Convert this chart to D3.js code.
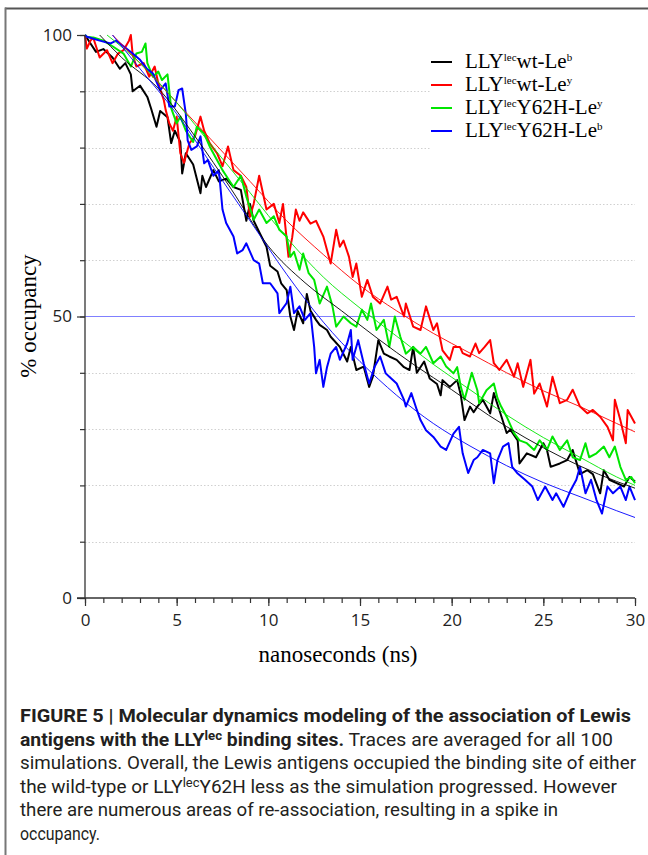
<!DOCTYPE html>
<html>
<head>
<meta charset="utf-8">
<script src="https://cdn.jsdelivr.net/npm/d3@7"></script>
<style>
  body { margin: 0; background: #fff; }
  svg { display: block; }
  .tick text { font-family: "Open Sans", "DejaVu Sans", sans-serif; font-size: 17px; fill: #222; }
</style>
</head>
<body>
<div id="chart"></div>
<script>
// occupancy traces, [ns, % occupancy]
const wtLeb = [[0,100],[0.3,98.5],[0.6,97],[1.0,97.5],[1.5,96],[1.9,94],[2.2,95],[2.5,93],[2.6,90],[3.0,91],[3.4,89],[3.6,87],[3.9,83.7],[4.1,86.5],[4.5,85.4],[4.7,80.8],[4.9,83],[5.2,81],[5.3,75.4],[5.5,79],[5.9,77],[6.3,71.9],[6.4,75],[6.6,73],[7.0,76],[7.3,74],[7.7,74.5],[8.1,73],[8.5,72.5],[8.8,67],[9.0,70],[9.2,67],[9.5,65],[9.9,62.4],[10.1,59],[10.5,58],[10.7,55.9],[11.0,54.7],[11.2,50],[11.4,47.6],[11.6,51],[11.9,48.8],[12.1,54],[12.3,51],[12.6,49.4],[12.8,48.5],[13.2,47.6],[13.4,46.4],[13.9,44.6],[14.3,42],[14.5,44.6],[14.8,40.5],[15.2,41.1],[15.5,37.5],[15.7,39.3],[16.0,45.8],[16.3,43.4],[16.6,42.9],[17.0,42.3],[17.4,41],[17.7,40.5],[17.9,44.6],[18.1,40],[18.5,42],[18.8,39],[19.2,38],[19.4,36],[19.5,38.7],[19.9,37.5],[20.3,38.7],[20.5,36],[20.7,31.6],[21.0,34],[21.2,33],[21.4,34],[21.7,35.2],[22.1,32.8],[22.3,36.4],[22.6,33.4],[23.0,29.3],[23.2,29.9],[23.6,28],[23.7,23.9],[24.1,25.7],[24.6,25],[25.0,27.5],[25.2,26.3],[25.4,23.3],[25.9,23.9],[26.3,24.5],[26.6,26.3],[27.0,22],[27.4,22.7],[27.7,22],[28.1,18.6],[28.3,22.7],[28.6,21],[29.0,20.4],[29.4,19.8],[29.7,21.5],[30.0,20.7]]

const wtLey = [[0,100],[0.1,97.6],[0.3,99],[0.45,99.5],[0.8,96],[1.2,97.3],[1.5,95],[1.8,96.7],[2.1,97.3],[2.4,99],[2.5,100],[2.6,96.5],[2.8,94.4],[3.2,95],[3.5,92.6],[3.8,94.4],[4.0,91.4],[4.3,88.4],[4.4,86.7],[4.6,84.3],[4.8,83],[5.0,85.5],[5.2,79],[5.4,77.3],[5.7,80.8],[6.0,82],[6.3,85.5],[6.5,83],[6.8,80.8],[7.2,79],[7.5,76.7],[7.8,80.2],[8.1,76],[8.5,75],[8.8,73],[9.0,67.7],[9.2,70],[9.5,75],[9.9,69],[10.3,70],[10.6,66.6],[10.8,70],[11.1,60.6],[11.3,64],[11.5,69],[11.7,67],[11.9,68.5],[12.3,66.5],[12.6,67],[13.0,64.2],[13.4,59.4],[13.7,65.4],[13.9,62.4],[14.1,63.5],[14.4,60.6],[14.6,57],[14.8,59.4],[15.1,53.5],[15.4,56.5],[15.7,53.5],[16.1,52.3],[16.5,55.3],[16.7,53],[17.0,53.5],[17.4,50],[17.5,52.3],[17.9,48.2],[18.3,47.6],[18.6,51.8],[19.0,47.6],[19.2,48.8],[19.5,44],[19.9,42.3],[20.1,44.6],[20.45,44.6],[20.6,43.5],[21.0,42.9],[21.3,45.2],[21.5,43.5],[21.8,44.6],[22.1,45.8],[22.3,41.7],[22.6,40.5],[23.0,42.3],[23.4,39.3],[23.6,41.7],[23.9,37.5],[24.3,42.3],[24.5,36.3],[24.8,38.1],[25.2,34],[25.5,39.3],[25.9,34.6],[26.3,35.2],[26.6,37],[27.0,34],[27.4,32.8],[27.7,33.4],[28.1,32.2],[28.5,30.4],[28.8,28],[28.9,35.2],[29.2,31.6],[29.5,27.5],[29.6,33.4],[29.8,32.2],[30.0,31]]

const y62hLey = [[0,100],[0.1,99.7],[0.5,99.5],[1.0,99],[1.5,98],[2.1,96.7],[2.5,94.4],[2.8,96.7],[3.1,97],[3.3,98.5],[3.4,95],[3.7,92.6],[4.0,93.5],[4.2,92],[4.5,93],[4.7,87],[5.0,84.3],[5.2,85.5],[5.5,83],[5.9,81],[6.1,83.7],[6.5,82.5],[6.8,80.2],[7.2,77.8],[7.5,76],[7.7,75],[8.1,73],[8.5,75],[8.8,71.3],[9.2,67.2],[9.5,69],[9.9,66.6],[10.3,67.8],[10.6,65.4],[11.0,64.2],[11.2,60.6],[11.4,61.5],[11.7,58.3],[11.9,61.2],[12.2,57.7],[12.5,56.5],[12.8,52.3],[13.2,55.3],[13.5,51.8],[13.7,48.2],[14.1,50],[14.5,48.8],[14.8,48.2],[15.1,51.2],[15.4,49.4],[15.6,52.3],[15.9,47.6],[16.3,49.4],[16.6,44.6],[16.9,50],[17.2,46.4],[17.5,43.4],[17.9,44.6],[18.3,43.4],[18.6,44.6],[19.0,41.7],[19.4,42.9],[19.7,41.1],[20.1,39.9],[20.3,41],[20.5,37.5],[20.7,35.2],[21.1,40],[21.4,36.9],[21.5,34.6],[21.9,36.9],[22.3,38.1],[22.5,35.5],[22.7,34],[23.0,32.2],[23.4,29.3],[23.7,28],[24.1,27.5],[24.5,26.3],[24.8,28],[25.2,26.3],[25.5,28.7],[25.9,26.3],[26.3,28],[26.6,25],[27.0,24.5],[27.3,27.5],[27.5,25],[27.9,25.7],[28.3,26.9],[28.6,25],[28.9,26.9],[29.2,23.3],[29.5,21],[29.8,21.5],[30.0,20.4]]

const y62hLeb = [[0,100],[0.1,99.7],[0.8,99],[1.4,98.5],[1.7,99],[2.1,98],[2.6,96.7],[3.0,95.6],[3.4,93.9],[3.7,93.2],[4.1,90.2],[4.4,91.4],[4.6,87.3],[4.9,87.3],[5.1,90.2],[5.3,90.5],[5.5,86],[5.6,81.3],[5.8,79.6],[6.1,80.2],[6.3,82],[6.5,77.2],[6.7,77.8],[7.0,75],[7.3,76],[7.5,69],[7.7,66.6],[8.1,64.2],[8.3,61.2],[8.6,61.8],[8.8,63],[9.2,60],[9.5,59.4],[9.7,55.9],[10.1,55.9],[10.5,54.1],[10.6,50.6],[11.0,52.4],[11.2,55.3],[11.4,50.6],[11.7,51.8],[12.0,49.4],[12.3,50.6],[12.5,44.6],[12.6,39.9],[12.8,42.3],[13.0,37.5],[13.2,41],[13.4,43.4],[13.7,44.6],[13.9,42.3],[14.3,45.2],[14.5,47.6],[14.6,42.3],[14.9,45.8],[15.2,41.7],[15.5,38.1],[15.8,41.1],[16.1,42.9],[16.4,39.9],[16.6,39.3],[17.0,38.1],[17.4,35.2],[17.5,34],[17.8,36.4],[18.1,33.4],[18.3,31.6],[18.6,29.8],[19.0,28.6],[19.4,26.9],[19.7,26.3],[20.1,29.2],[20.4,30.4],[20.6,25.7],[20.9,22.2],[21.2,24.5],[21.4,25],[21.7,26.3],[22.1,25.7],[22.3,20.4],[22.5,24.5],[22.8,26.9],[23.1,27.5],[23.3,23.3],[23.6,22.1],[24.0,21],[24.4,19.8],[24.7,17.4],[25.1,19.8],[25.5,17.4],[25.7,18.6],[26.1,16.2],[26.5,19.2],[26.8,21],[27.0,23.3],[27.3,18.6],[27.6,21],[27.9,17.4],[28.2,15],[28.5,19.8],[28.8,18.6],[29.2,19.8],[29.5,17.4],[29.7,19.8],[30.0,17.4]]

// fitted decay curves (thin lines)
const fitWtLeb = [[0.8,100],[2,96],[4,90.5],[6,82],[8,72.5],[10,62.5],[12,56],[14,51],[16,46],[18,41.3],[20,37],[22,32.5],[24,28.5],[26,25],[28,22],[30,19.5]]
const fitWtLey = [[1.5,100],[3,95],[5,88],[7,81],[9,74],[11,67],[13,61],[15,55.5],[17,51],[19,47],[21,43.5],[23,40],[25,36.8],[27,34],[29,31],[30,29.5]]
const fitY62hLey = [[1.2,100],[3,95],[5,88],[7,80],[9,72],[11,64],[13,57],[15,51.5],[17,46.5],[19,41.5],[21,37],[23,32.5],[25,28.5],[27,25],[29,21.5],[30,20]]
const fitY62hLeb = [[1.5,100],[3,94],[5,86],[7,76.5],[9,67],[11,57.5],[13,49],[15,42],[17,36],[19,31],[21,27],[23,23.5],[25,20.5],[27,18],[29,15.5],[30,14.3]]

const seriesColors = ["#000000", "#ff0000", "#00e600", "#0000ff"]
const seriesNames = [
    ["LLY", "lec", "wt-Le", "b"],
    ["LLY", "lec", "wt-Le", "y"],
    ["LLY", "lec", "Y62H-Le", "y"],
    ["LLY", "lec", "Y62H-Le", "b"],
]
const traces = [wtLeb, wtLey, y62hLey, y62hLeb]
const fits = [fitWtLeb, fitWtLey, fitY62hLey, fitY62hLeb]

const majorX = [0, 5, 10, 15, 20, 25, 30]
const minorX = d3.range(0, 31, 1)
const majorY = [0, 50, 100]
const minorY = d3.range(0, 101, 10)
const gridY = [10, 20, 30, 40, 60, 70, 80, 90]

const caption = [
    [{t: "FIGURE 5 | Molecular dynamics modeling of the association of Lewis", b: true}],
    [{t: "antigens with the LLY", b: true}, {t: "lec", b: true, sup: true}, {t: " binding sites.", b: true}, {t: " Traces are averaged for all 100"}],
    [{t: "simulations. Overall, the Lewis antigens occupied the binding site of either"}],
    [{t: "the wild-type or LLY"}, {t: "lec", sup: true}, {t: "Y62H less as the simulation progressed. However"}],
    [{t: "there are numerous areas of re-association, resulting in a spike in"}],
    [{t: "occupancy."}],
]
const captionWidths = [611, 593, 616, 597, 538, 80]

draw()

function draw() {
    const width = 648
    const height = 855
    const plot = {left: 85, right: 635, top: 35, bottom: 598}

    const svg = d3.select("#chart").append("svg")
        .attr("width", width)
        .attr("height", height)

    // frame of the figure panel
    svg.append("line")
        .attr("x1", 5).attr("x2", width)
        .attr("y1", 8.5).attr("y2", 8.5)
        .attr("stroke", "#555").attr("stroke-width", 2)
    svg.append("line")
        .attr("x1", 5.5).attr("x2", 5.5)
        .attr("y1", 7.5).attr("y2", height)
        .attr("stroke", "#777").attr("stroke-width", 2)

    const xScale = d3.scaleLinear()
        .domain([0, 30])
        .range([plot.left, plot.right])
    const yScale = d3.scaleLinear()
        .domain([0, 100])
        .range([plot.bottom, plot.top])

    // dotted grid
    svg.append("g").selectAll("line")
        .data(gridY)
        .join("line")
            .attr("x1", plot.left).attr("x2", plot.right)
            .attr("y1", d => Math.round(yScale(d)) + 0.5)
            .attr("y2", d => Math.round(yScale(d)) + 0.5)
            .attr("stroke", "#d0d0d0")
            .attr("stroke-dasharray", "1.5,2")

    // 50% reference line
    svg.append("line")
        .attr("x1", plot.left).attr("x2", plot.right)
        .attr("y1", yScale(50)).attr("y2", yScale(50))
        .attr("stroke", "#8080ff").attr("stroke-width", 1)

    const line = d3.line()
        .x(d => xScale(d[0]))
        .y(d => yScale(d[1]))

    svg.append("g").selectAll("path")
        .data(traces)
        .join("path")
            .attr("d", line)
            .attr("fill", "none")
            .attr("stroke", (d, i) => seriesColors[i])
            .attr("stroke-width", 2)
            .attr("stroke-linejoin", "round")

    const fitLine = d3.line()
        .x(d => xScale(d[0]))
        .y(d => yScale(d[1]))
        .curve(d3.curveMonotoneX)

    svg.append("g").selectAll("path")
        .data(fits)
        .join("path")
            .attr("d", fitLine)
            .attr("fill", "none")
            .attr("stroke", (d, i) => seriesColors[i])
            .attr("stroke-width", 0.9)

    // axes
    const yAxis = svg.append("g")
        .attr("transform", `translate(${plot.left},0)`)
    yAxis.append("g")
        .call(d3.axisLeft(yScale).tickValues(minorY).tickSize(5).tickFormat(""))
    yAxis.append("g")
        .call(d3.axisLeft(yScale).tickValues(majorY).tickSize(8).tickPadding(5))
    yAxis.selectAll(".domain").remove()
    yAxis.append("line")
        .attr("y1", plot.top).attr("y2", plot.bottom)
        .attr("stroke", "#333").attr("stroke-width", 1.3)

    const xAxis = svg.append("g")
        .attr("transform", `translate(0,${plot.bottom})`)
    xAxis.append("g")
        .call(d3.axisBottom(xScale).tickValues(minorX).tickSize(5).tickFormat(""))
    xAxis.append("g")
        .call(d3.axisBottom(xScale).tickValues(majorX).tickSize(8).tickPadding(8))
    xAxis.selectAll(".domain").remove()
    xAxis.append("line")
        .attr("x1", plot.left - 8).attr("x2", plot.right)
        .attr("stroke", "#333").attr("stroke-width", 1.3)
    svg.selectAll(".tick line").attr("stroke", "#333").attr("stroke-width", 1.2)

    // axis titles
    svg.append("text")
        .attr("x", 338)
        .attr("y", 662)
        .attr("text-anchor", "middle")
        .style("font-family", "'Liberation Serif', 'Times New Roman', serif")
        .style("font-size", "23px")
        .text("nanoseconds (ns)")

    svg.append("text")
        .attr("transform", "translate(36,316) rotate(-90)")
        .attr("text-anchor", "middle")
        .style("font-family", "'Liberation Serif', 'Times New Roman', serif")
        .style("font-size", "23px")
        .text("% occupancy")

    // legend
    const legend = svg.append("g")
    legend.append("rect")
        .attr("x", 430).attr("y", 45)
        .attr("width", 205).attr("height", 107)
        .attr("fill", "#fff")
    const rows = legend.selectAll(".row")
        .data(seriesNames)
        .join("g")
            .attr("class", "row")
            .attr("transform", (d, i) => `translate(431,${62 + i * 23})`)
    rows.append("line")
        .attr("x1", 0).attr("x2", 21)
        .attr("stroke", (d, i) => seriesColors[i])
        .attr("stroke-width", 2)
    const labels = rows.append("text")
        .attr("x", 34)
        .attr("y", 6)
        .style("font-family", "'Liberation Serif', 'Times New Roman', serif")
        .style("font-size", "21px")
    labels.append("tspan").text(d => d[0])
    labels.append("tspan").attr("dy", -7).style("font-size", "11px").text(d => d[1])
    labels.append("tspan").attr("dy", 7).text(d => d[2])
    labels.append("tspan").attr("dy", -7).style("font-size", "11px").text(d => d[3])

    // caption
    const cap = svg.append("g")
        .style("font-family", "Roboto, 'Liberation Sans', sans-serif")
        .style("font-size", "19px")
        .style("fill", "#231f20")
    caption.forEach((segs, i) => {
        const t = cap.append("text")
            .attr("x", 20)
            .attr("y", 722 + i * 23.6)
            .attr("textLength", captionWidths[i])
            .attr("lengthAdjust", "spacingAndGlyphs")
        let raised = false
        segs.forEach(s => {
            const sp = t.append("tspan")
                .style("font-weight", s.b ? "bold" : "normal")
                .text(s.t)
            if (s.sup) {
                sp.attr("dy", -6).style("font-size", "13px")
                raised = true
            } else if (raised) {
                sp.attr("dy", 6)
                raised = false
            }
        })
    })
}
</script>
</body>
</html>
